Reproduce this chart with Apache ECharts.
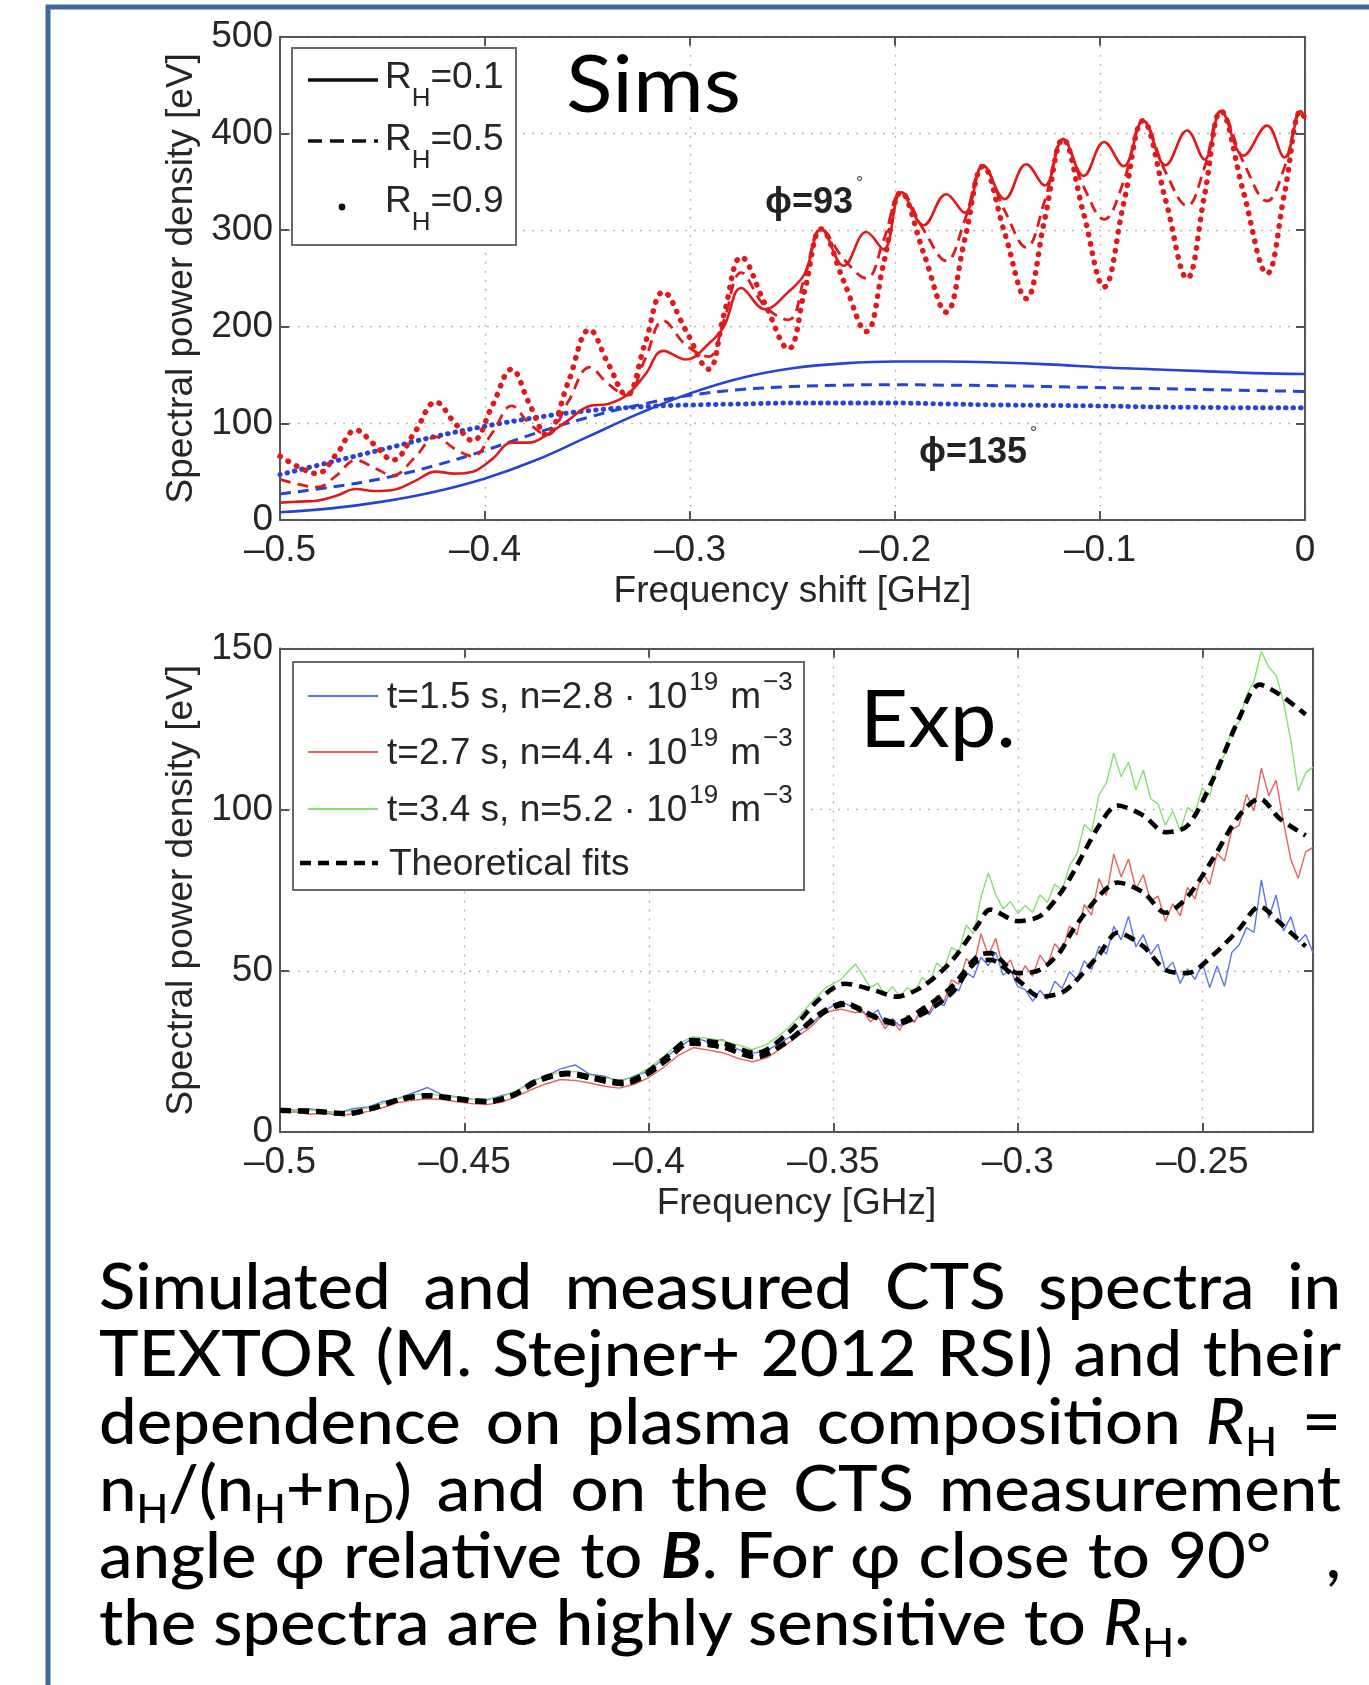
<!DOCTYPE html>
<html><head><meta charset="utf-8">
<script src="https://cdn.jsdelivr.net/npm/echarts@6/dist/echarts.min.js"></script>
<style>
html,body{margin:0;padding:0;background:#fff;}
#chart{position:absolute;left:0;top:0;width:1369px;height:1685px;}
#caption{position:absolute;left:99px;top:1251px;font-family:Lato,"Open Sans","Noto Sans",sans-serif;font-weight:500;font-size:64px;line-height:67.3px;color:#000;transform-origin:0 0;z-index:5;}
#caption .ln{white-space:nowrap;text-align:justify;text-align-last:justify;height:67.3px;}
#caption .ln.last{text-align-last:left;}
#caption sub{font-size:0.62em;vertical-align:-0.3em;line-height:0;}
#caption .deg{font-size:0.9em;vertical-align:0.05em;line-height:0;}
</style></head>
<body>
<div id="chart"></div>
<div id="caption">
<div class="ln">Simulated and measured CTS spectra in</div>
<div class="ln">TEXTOR (M. Stejner+ 2012 RSI) and their</div>
<div class="ln">dependence on plasma composition <i>R</i><sub>H</sub> =</div>
<div class="ln">n<sub>H</sub>/(n<sub>H</sub>+n<sub>D</sub>) and on the CTS measurement</div>
<div class="ln">angle φ relative to <b><i>B</i></b>. For φ close to 90<span class="deg">°</span>&nbsp;&nbsp; ,</div>
<div class="ln last"><span id="l6">the spectra are highly sensitive to <i>R</i><sub>H</sub>.</span></div>
</div>
<script>
// ---------------- Simulated spectra (top panel) ----------------
const simX = [-0.5, -0.491, -0.482, -0.4725, -0.463, -0.454, -0.445, -0.4345, -0.424, -0.415, -0.406, -0.3965, -0.387, -0.3785, -0.370, -0.3595, -0.349, -0.340, -0.331, -0.322, -0.313, -0.302, -0.291, -0.2835, -0.275, -0.2635, -0.252, -0.244, -0.236, -0.225, -0.214, -0.2055, -0.197, -0.186, -0.175, -0.166, -0.157, -0.1465, -0.136, -0.127, -0.118, -0.108, -0.098, -0.0885, -0.079, -0.068, -0.0575, -0.049, -0.041, -0.03, -0.0185, -0.010, -0.002, 0];
const red01_93 = [18, 19, 20, 25, 32, 30, 31, 40, 50, 48, 50, 63, 80, 80, 88, 103, 118, 120, 129, 150, 175, 166, 182, 200, 240, 218, 236, 255, 301, 263, 298, 280, 339, 305, 337, 318, 367, 332, 368, 346, 394, 356, 391, 366, 413, 367, 403, 373, 423, 377, 408, 375, 423, 415];
const red05_93 = [42, 37, 34, 46, 62, 54, 46, 64, 86, 74, 66, 90, 118, 100, 88, 122, 158, 141, 129, 166, 206, 181, 169, 206, 256, 221, 207, 252, 301, 270, 250, 290, 339, 300, 268, 310, 366, 320, 282, 330, 394, 345, 311, 350, 413, 360, 325, 365, 423, 370, 330, 365, 423, 415];
const red09_93 = [66, 55, 48, 68, 93, 78, 62, 90, 122, 101, 82, 118, 156, 121, 88, 142, 197, 162, 129, 182, 236, 196, 156, 212, 272, 224, 177, 238, 301, 247, 195, 266, 339, 276, 215, 290, 366, 297, 229, 311, 394, 317, 241, 327, 413, 331, 250, 336, 423, 339, 255, 338, 423, 415];
const blueX = [-0.5, -0.475, -0.45, -0.425, -0.4, -0.375, -0.35, -0.325, -0.3, -0.275, -0.25, -0.225, -0.2, -0.175, -0.15, -0.125, -0.1, -0.075, -0.05, -0.025, 0];
const blue01_135 = [8, 12, 19, 29, 43, 62, 86, 110, 131, 147, 157, 162, 164, 164, 163, 161, 158, 156, 154, 152, 151];
const blue05_135 = [27, 34, 43, 56, 72, 90, 106, 119, 129, 135, 138, 139.5, 140, 139.5, 139, 138, 137, 136, 135, 134, 133];
const blue09_135 = [47, 60, 73, 86, 97, 106, 113, 117, 119, 120, 121, 121, 121, 120, 119, 118.5, 118, 117, 116.5, 116, 116];
const simXTicks = [-0.5, -0.4, -0.3, -0.2, -0.1, 0];
const simYTicks = [0, 100, 200, 300, 400, 500];

// ---------------- Measured spectra (bottom panel) ----------------
const measX = [-0.5, -0.496, -0.492, -0.488, -0.484, -0.48, -0.476, -0.472, -0.468, -0.464, -0.46, -0.456, -0.452, -0.448, -0.444, -0.44, -0.436, -0.432, -0.428, -0.424, -0.42, -0.416, -0.412, -0.408, -0.404, -0.4, -0.396, -0.392, -0.388, -0.384, -0.38, -0.376, -0.372, -0.368, -0.364, -0.36, -0.356, -0.352, -0.348, -0.344,
  -0.342, -0.340, -0.338, -0.336, -0.334, -0.332, -0.330, -0.328, -0.326, -0.324, -0.322, -0.320, -0.318, -0.316, -0.314, -0.312, -0.310, -0.308, -0.306, -0.304, -0.302, -0.300, -0.298, -0.296, -0.294, -0.292, -0.290, -0.288, -0.286, -0.284, -0.282, -0.280, -0.278, -0.276, -0.274, -0.272, -0.270, -0.268, -0.266, -0.264, -0.262, -0.260, -0.258, -0.256, -0.254, -0.252, -0.250, -0.248, -0.246, -0.244, -0.242, -0.240, -0.238, -0.236, -0.234, -0.232, -0.230, -0.228, -0.226, -0.224, -0.222, -0.220];
const measBlue = [7.5, 6.8, 7.2, 6.4, 6.0, 7.3, 7.8, 9.5, 10.4, 12.1, 13.8, 11.5, 10.9, 10.2, 9.9, 11.3, 12.4, 15.8, 17.2, 19.6, 20.8, 17.9, 17.3, 15.6, 17.4, 18.9, 22.8, 26.1, 29.3, 28.0, 28.6, 25.7, 24.4, 25.3, 27.9, 30.8, 33.6, 37.9, 40.6, 38.2,
  37.1, 35.8, 37.9, 33.2, 35.1, 32.9, 35.6, 34.3, 37.8, 36.4, 40.1, 39.2, 44.6, 43.8, 49.5, 47.9, 54.2, 51.6, 55.8, 48.7, 50.3, 45.1, 44.2, 40.6, 43.9, 41.2, 46.8, 44.5, 49.7, 47.3, 53.1, 50.4, 57.6, 55.2, 63.8, 59.6, 66.9, 57.4, 61.2, 55.1, 58.3, 50.2, 52.7, 46.1, 50.6, 47.3, 52.4, 44.8, 51.5, 45.2, 55.7, 58.1, 63.4, 61.9, 78.2, 66.3, 73.5, 62.4, 66.8, 58.9, 61.3, 55.6];
const measRed = [6.0, 6.3, 5.5, 5.9, 5.2, 5.6, 6.4, 7.6, 9.1, 9.8, 10.3, 10.1, 9.4, 8.8, 8.5, 9.2, 11.0, 13.1, 14.9, 16.3, 16.0, 15.2, 14.2, 13.6, 14.8, 16.9, 20.1, 23.8, 26.2, 25.4, 24.6, 22.9, 21.8, 23.0, 26.1, 29.4, 32.7, 37.2, 38.1, 37.0,
  37.6, 34.2, 35.9, 32.1, 34.8, 31.5, 36.2, 34.0, 38.9, 37.1, 42.3, 40.6, 47.2, 45.9, 53.8, 51.2, 61.5, 54.7, 60.1, 50.8, 53.4, 47.2, 51.6, 48.3, 54.9, 51.7, 58.4, 55.6, 63.9, 61.2, 70.5, 67.3, 78.6, 73.4, 86.2, 79.1, 84.7, 75.3, 79.8, 71.6, 73.2, 65.4, 70.8, 67.1, 75.9, 72.3, 80.6, 76.8, 86.4, 84.1, 93.7, 95.2, 104.8, 99.6, 112.9, 104.3, 109.1, 96.2, 84.5, 78.7, 86.9, 88.3];
const measGreen = [7.0, 6.6, 6.9, 6.2, 6.1, 6.7, 7.5, 8.9, 10.3, 11.6, 11.9, 11.2, 10.8, 10.1, 10.2, 10.9, 12.6, 15.3, 17.4, 18.5, 18.8, 17.6, 16.9, 16.0, 17.2, 19.8, 23.5, 27.4, 29.6, 29.0, 28.3, 27.1, 25.6, 27.2, 30.5, 34.9, 40.2, 44.8, 47.3, 52.1,
  48.6, 44.9, 46.2, 42.5, 45.1, 42.0, 44.8, 43.2, 47.9, 46.1, 52.4, 50.7, 57.3, 55.8, 64.2, 61.5, 72.8, 80.4, 73.6, 69.2, 71.5, 67.8, 70.3, 68.1, 73.6, 71.2, 76.9, 75.0, 82.7, 86.1, 95.4, 93.2, 104.6, 108.3, 117.5, 110.2, 114.8, 106.1, 112.3, 103.4, 101.8, 95.2, 99.6, 93.4, 100.7, 98.9, 106.8, 104.2, 113.5, 116.9, 124.8, 127.3, 135.6, 139.8, 149.1, 144.2, 141.7, 133.5, 121.3, 105.8, 111.4, 113.2];
const fitX = [-0.5, -0.49, -0.482, -0.474, -0.467, -0.46, -0.452, -0.444, -0.437, -0.43, -0.422, -0.415, -0.407, -0.401, -0.395, -0.389, -0.38, -0.371, -0.362, -0.354, -0.347, -0.339, -0.333, -0.326, -0.318, -0.311, -0.3075, -0.3, -0.294, -0.2885, -0.285, -0.278, -0.273, -0.266, -0.26, -0.254, -0.247, -0.24, -0.2345, -0.229, -0.222];
const fitBlue = [6.6, 6.3, 5.6, 7.6, 10.2, 11.2, 10.2, 9.3, 11.2, 15.8, 18, 16.5, 14.9, 17.5, 22.5, 27.5, 26.3, 23.2, 28.4, 36, 39.5, 35.7, 33.5, 36.5, 43, 53, 53.4, 47.2, 42, 43, 46, 55, 61.8, 57.6, 50.3, 49.3, 55, 63, 70, 64.9, 57.6];
const fitRed = [6.6, 6.3, 5.6, 7.6, 10.2, 11.2, 10.2, 9.3, 11.2, 15.8, 18, 16.5, 14.9, 17.5, 22.5, 27.5, 26.3, 23.2, 28.5, 36.5, 40, 36, 34, 38, 45, 54.5, 55.5, 49.3, 50.3, 56, 62.8, 73.2, 77.4, 74.3, 68, 73, 85, 98.2, 103.4, 97.2, 92];
const fitGreen = [6.8, 6.5, 5.8, 7.8, 10.4, 11.4, 10.5, 9.6, 11.5, 16.2, 18.4, 17, 15.5, 18.2, 23.5, 28.5, 27.5, 24.5, 31, 41, 46, 44, 42, 45, 53, 64, 69, 65.4, 67, 74, 80.5, 95, 101.3, 98.2, 93, 95, 109.7, 128.4, 138.8, 135.7, 129.5];
const expXTicks = [-0.5, -0.45, -0.4, -0.35, -0.3, -0.25];
const expYTicks = [0, 50, 100, 150];

// ---------------- helpers ----------------
const MF = '"Liberation Sans", Arial, Helvetica, sans-serif';
const LF = 'Lato, "Open Sans", "Noto Sans", sans-serif';
const TXT = '#262626';
const RED = '#e01a1a', BLUE = '#2444d8';
const pts = (xs, ys) => xs.map((x, i) => [x, ys[i]]);
const mctx = document.createElement('canvas').getContext('2d');
function tw(t, font){ mctx.font = font; return mctx.measureText(t).width; }
function run(x, base, parts, opt){
  opt = opt || {};
  const els = []; let cx = x;
  parts.forEach(p => {
    const size = p.s || opt.s || 37;
    const fam = p.f || opt.f || MF;
    const font = (p.i ? 'italic ' : '') + ((p.b || opt.b) ? 'bold ' : '') + size + 'px ' + fam;
    const k = fam === LF ? 0.387 : 0.3465;
    els.push({type:'text', x: cx, y: base + (p.dy || 0) - k * size, z: 60, silent: true,
      style:{text: p.t, font: font, fill: p.c || opt.c || TXT, textAlign:'left', textVerticalAlign:'middle', align:'left', verticalAlign:'middle'}});
    cx += tw(p.t, font) + (p.gap || 0);
  });
  return els;
}
function fitText(x, base, t, size, targetW){
  const font = size + 'px ' + LF;
  const w = tw(t, font);
  return {type:'text', x: x, y: base - 0.387 * size, scaleX: targetW / w, z: 60, silent: true,
    style:{text: t, font: font, fill:'#000', textAlign:'left', textVerticalAlign:'middle', align:'left', verticalAlign:'middle'}};
}
function fmtX(v){
  const r = Math.round(v * 1000) / 1000;
  if (Math.abs(r) < 1e-9) return '0';
  if (Math.abs(Math.round(r * 20) - r * 20) > 1e-6) return '';
  return (r < 0 ? '\u2013' : '') + String(Math.abs(r));
}

const frame = {color:'#555', width:2};
const gridLine = {show:true, lineStyle:{color:'#b4b4b4', width:1.4, type:[2, 7]}};
function xAxes(gi, min, max, interval, name){
  return [
    {gridIndex: gi, type:'value', min, max, interval, position:'bottom',
     axisLine:{onZero:false, lineStyle:frame}, axisTick:{inside:true, length:9, lineStyle:frame},
     axisLabel:{formatter: fmtX, fontSize:37, fontFamily:MF, color:TXT, margin:12},
     splitLine: gridLine,
     name, nameLocation:'middle', nameGap:53, nameTextStyle:{fontSize:37, fontFamily:MF, color:TXT}},
    {gridIndex: gi, type:'value', min, max, interval, position:'top',
     axisLine:{onZero:false, lineStyle:frame}, axisTick:{inside:true, length:9, lineStyle:frame},
     axisLabel:{show:false}, splitLine:{show:false}}
  ];
}
function yAxes(gi, min, max, interval, name){
  return [
    {gridIndex: gi, type:'value', min, max, interval, position:'left',
     axisLine:{onZero:false, lineStyle:frame}, axisTick:{inside:true, length:9, lineStyle:frame},
     axisLabel:{fontSize:37, fontFamily:MF, color:TXT, margin:7},
     splitLine: gridLine,
     name, nameLocation:'middle', nameGap:80, nameTextStyle:{fontSize:37, fontFamily:MF, color:TXT}},
    {gridIndex: gi, type:'value', min, max, interval, position:'right',
     axisLine:{onZero:false, lineStyle:frame}, axisTick:{inside:true, length:9, lineStyle:frame},
     axisLabel:{show:false}, splitLine:{show:false}}
  ];
}
function simLine(xs, ys, color, type, width, gap){
  const ls = {color, width};
  if (type === 'dash') ls.type = [11, 7];
  if (type === 'dot') { ls.type = [0.5, gap]; ls.cap = 'round'; }
  return {type:'line', xAxisIndex:0, yAxisIndex:0, data: pts(xs, ys), smooth:0.4,
    showSymbol:false, symbol:'none', lineStyle: ls, z:3, silent:true};
}
function expLine(xs, ys, color, fit){
  return {type:'line', xAxisIndex:2, yAxisIndex:2, data: pts(xs, ys), smooth: fit ? 0.3 : false,
    showSymbol:false, symbol:'none', silent:true, z: fit ? 5 : 3,
    lineStyle: fit ? {color:'#000', width:4.6, type:[11, 7]} : {color, width:1.4}};
}

// ---------------- graphics (frame, legends, labels) ----------------
const G = [];
G.push({type:'rect', shape:{x:48, y:7, width:1400, height:1720}, style:{fill:'none', stroke:'#41689a', lineWidth:5}, z:1, silent:true});
// legend 1
G.push({type:'rect', shape:{x:292, y:48, width:224, height:197}, style:{fill:'#fff', stroke:'#6a6a6a', lineWidth:2}, z:50, silent:true});
G.push({type:'line', shape:{x1:308, y1:80, x2:378, y2:80}, style:{stroke:'#111', lineWidth:3.5}, z:55, silent:true});
G.push({type:'line', shape:{x1:308, y1:141, x2:378, y2:141}, style:{stroke:'#111', lineWidth:3.5, lineDash:[14, 8]}, z:55, silent:true});
G.push({type:'circle', shape:{cx:342, cy:207, r:3.4}, style:{fill:'#111'}, z:55, silent:true});
const rhLabels = ['=0.1', '=0.5', '=0.9'];
[91, 153, 215].forEach((b, i) => {
  G.push(...run(385, b, [{t:'R'}, {t:'H', s:26, dy:17}, {t:rhLabels[i]}]));
});
// legend 2
G.push({type:'rect', shape:{x:293, y:662, width:511, height:228}, style:{fill:'#fff', stroke:'#6a6a6a', lineWidth:2}, z:50, silent:true});
const legCols = ['#5a76e6', '#e8605c', '#86e070'];
const legT = ['t=1.5 s, n=2.8 \u00b7 10', 't=2.7 s, n=4.4 \u00b7 10', 't=3.4 s, n=5.2 \u00b7 10'];
[696, 752, 809].forEach((ly, i) => {
  G.push({type:'line', shape:{x1:308, y1:ly, x2:378, y2:ly}, style:{stroke:legCols[i], lineWidth:1.8}, z:55, silent:true});
  G.push(...run(387, ly + 15, [{t:legT[i], gap:2}, {t:'19', s:26, dy:-19, gap:12}, {t:'m', gap:2}, {t:'\u22123', s:26, dy:-19}]));
});
G.push({type:'line', shape:{x1:300, y1:863, x2:378, y2:863}, style:{stroke:'#000', lineWidth:4.6, lineDash:[11, 7]}, z:55, silent:true});
G.push(...run(389, 878, [{t:'Theoretical fits'}]));
// panel labels
G.push(fitText(566, 117, 'Sims', 80, 175));
G.push(fitText(860, 752, 'Exp.', 80, 156));
G.push(...run(765, 216, [{t:'\u03d5=93', b:true, s:36, c:'#222', gap:3}, {t:'\u00b0', s:18, dy:-26, c:'#444'}]));
G.push(...run(919, 466, [{t:'\u03d5=135', b:true, s:36, c:'#222', gap:3}, {t:'\u00b0', s:18, dy:-26, c:'#444'}]));

const chart = echarts.init(document.getElementById('chart'), null, {renderer:'canvas'});
chart.setOption({
  animation:false,
  backgroundColor:'#fff',
  grid:[
    {left:280, top:36.7, width:1025, height:483.3},
    {left:280, top:648.5, width:1033, height:483.5}
  ],
  xAxis:[...xAxes(0, simXTicks[0], simXTicks[simXTicks.length-1], 0.1, 'Frequency shift [GHz]'),
         ...xAxes(1, expXTicks[0], -0.22, 0.05, 'Frequency [GHz]')],
  yAxis:[...yAxes(0, simYTicks[0], simYTicks[simYTicks.length-1], 100, 'Spectral power density [eV]'),
         ...yAxes(1, expYTicks[0], expYTicks[expYTicks.length-1], 50, 'Spectral power density [eV]')],
  series:[
    simLine(blueX, blue01_135, BLUE, 'solid', 2.6),
    simLine(blueX, blue05_135, BLUE, 'dash', 3),
    simLine(blueX, blue09_135, BLUE, 'dot', 5, 7),
    simLine(simX, red01_93, RED, 'solid', 2.6),
    simLine(simX, red05_93, RED, 'dash', 2.8),
    simLine(simX, red09_93, RED, 'dot', 5.5, 9),
    expLine(measX, measBlue, legCols[0], false),
    expLine(measX, measRed, legCols[1], false),
    expLine(measX, measGreen, legCols[2], false),
    expLine(fitX, fitBlue, '#000', true),
    expLine(fitX, fitRed, '#000', true),
    expLine(fitX, fitGreen, '#000', true)
  ],
  graphic: G
});

// caption fitting
(function(){
  const cap = document.getElementById('caption');
  const nat = document.getElementById('l6').getBoundingClientRect().width;
  const s = 1091 / nat;
  cap.style.width = (1242 / s) + 'px';
  cap.style.transform = 'scaleX(' + s + ')';
})();
</script>
</body></html>
